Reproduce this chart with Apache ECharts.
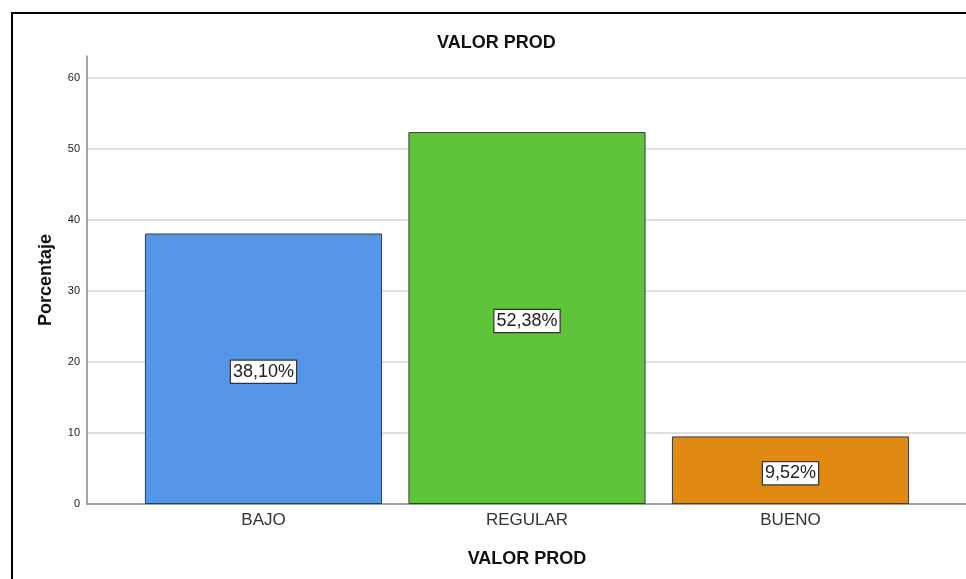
<!DOCTYPE html>
<html>
<head>
<meta charset="utf-8" />
<title>VALOR PROD</title>
<script src="https://cdn.jsdelivr.net/npm/echarts@6/dist/echarts.min.js"></script>
<style>
  html, body { margin: 0; padding: 0; background: #fff; }
  #main { width: 966px; height: 579px; }
</style>
</head>
<body>
<div id="main"></div>
<script type="text/javascript">
    // datos del grafico
    var categorias = ['BAJO', 'REGULAR', 'BUENO'];
    var porcentajes = [38.10, 52.38, 9.52];
    var colores = ['#5596e6', '#5ec43a', '#e08a12'];
    var yMax = 60;
    var yTop = 63.1;   // el eje vertical sube un poco mas que 60

    var fuente = 'Liberation Sans, Arial, sans-serif';

    var datos = [];
    for (var i = 0; i < porcentajes.length; i++) {
        datos.push({
            value: porcentajes[i],
            itemStyle: { color: colores[i] }
        });
    }

    var myChart = echarts.init(document.getElementById('main'));
    myChart.setOption({
        animation: false,
        title: {
            text: 'VALOR PROD',
            left: 432,
            top: 29,
            textStyle: { fontFamily: fuente, fontSize: 18, fontWeight: 'bold', color: '#111' }
        },
        graphic: [{
            type: 'rect',
            shape: { x: 12, y: 13, width: 1100, height: 1000 },
            style: { fill: 'none', stroke: '#000', lineWidth: 2 },
            silent: true
        }],
        grid: [
            // linea del eje vertical (llega hasta arriba)
            { left: 87, width: 880, top: 56, height: 448 },
            // rejilla y etiquetas 0..60
            { left: 87, width: 880, top: 78, height: 426 },
            // barras
            { left: 131.75, width: 790.5, top: 78, height: 426 }
        ],
        xAxis: [
            { gridIndex: 0, type: 'value', show: false, min: 0, max: 1 },
            {
                gridIndex: 1, type: 'value', min: 0, max: 1,
                axisLine: { show: true, lineStyle: { color: '#888', width: 1.5 } },
                axisTick: { show: false }, axisLabel: { show: false }, splitLine: { show: false }
            },
            {
                gridIndex: 2, type: 'category', data: categorias,
                axisLine: { show: false }, axisTick: { show: false },
                axisLabel: { margin: 8, fontFamily: fuente, fontSize: 17, color: '#333' },
                name: 'VALOR PROD', nameLocation: 'middle', nameGap: 46,
                nameTextStyle: { fontFamily: fuente, fontSize: 18, fontWeight: 'bold', color: '#111' }
            }
        ],
        yAxis: [
            {
                gridIndex: 0, type: 'value', min: 0, max: yTop,
                axisLine: { show: true, lineStyle: { color: '#888', width: 1.5 } },
                axisTick: { show: false }, axisLabel: { show: false }, splitLine: { show: false },
                name: 'Porcentaje', nameLocation: 'middle', nameGap: 32, nameRotate: 90,
                nameTextStyle: { fontFamily: fuente, fontSize: 18, fontWeight: 'bold', color: '#111' }
            },
            {
                gridIndex: 1, type: 'value', min: 0, max: yMax, interval: 10,
                axisLine: { show: false }, axisTick: { show: false },
                axisLabel: { margin: 7, fontFamily: fuente, fontSize: 11, color: '#222' },
                splitLine: { show: true, lineStyle: { color: '#d6d6d6', width: 1.5 } }
            },
            {
                gridIndex: 2, type: 'value', min: 0, max: yMax, show: false
            }
        ],
        series: [{
            type: 'bar',
            xAxisIndex: 2,
            yAxisIndex: 2,
            data: datos,
            barWidth: '90%',
            itemStyle: { borderColor: '#3a3a3a', borderWidth: 1 },
            label: {
                show: true,
                position: 'inside',
                offset: [0, 3],
                formatter: function (p) {
                    return p.value.toFixed(2).replace('.', ',') + '%';
                },
                fontFamily: fuente,
                fontSize: 18,
                color: '#222',
                backgroundColor: '#fff',
                borderColor: '#333',
                borderWidth: 1.2,
                padding: [3, 2, 1, 2]
            }
        }]
    });
</script>
</body>
</html>
